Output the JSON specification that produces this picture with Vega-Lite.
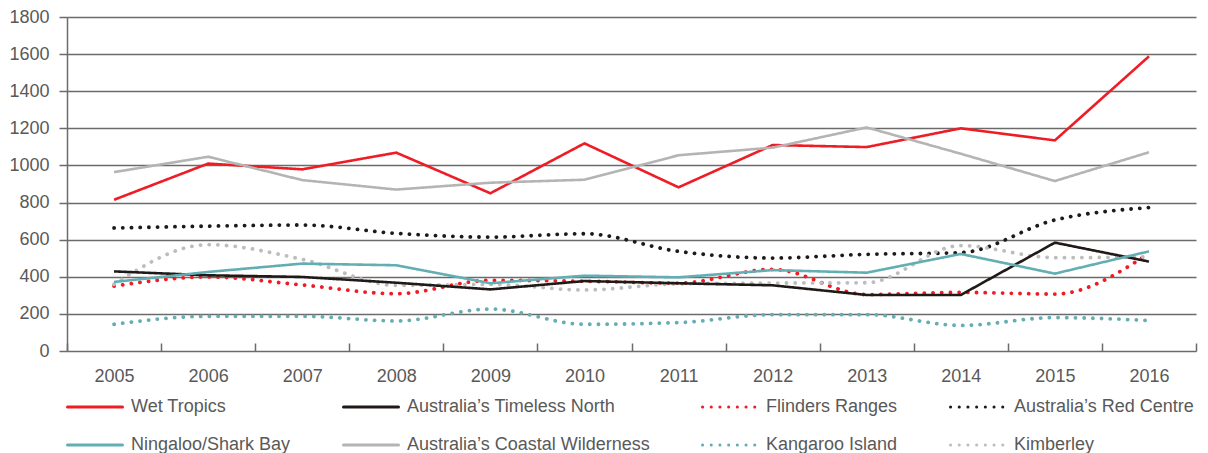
{
  "$schema": "https://vega.github.io/schema/vega-lite/v6.json",
  "width": 1129,
  "height": 334,
  "autosize": {"type": "none"},
  "padding": {"left": 67, "top": 17, "right": 12, "bottom": 102},
  "background": "white",
  "config": {
    "view": {"stroke": null},
    "font": "Liberation Sans",
    "axis": {"labelFont": "Liberation Sans", "labelFontSize": 18, "labelColor": "#595959", "domainColor": "#6b6b6b", "tickColor": "#6b6b6b", "gridColor": "#6b6b6b", "gridOpacity": 1, "domainWidth": 1.5, "tickWidth": 1.5, "gridWidth": 1.5, "title": null}
  },
  "data": {"values": [
    {"year": "2005", "region": "Wet Tropics", "value": 815},
    {"year": "2006", "region": "Wet Tropics", "value": 1010},
    {"year": "2007", "region": "Wet Tropics", "value": 979},
    {"year": "2008", "region": "Wet Tropics", "value": 1069},
    {"year": "2009", "region": "Wet Tropics", "value": 850},
    {"year": "2010", "region": "Wet Tropics", "value": 1119},
    {"year": "2011", "region": "Wet Tropics", "value": 882},
    {"year": "2012", "region": "Wet Tropics", "value": 1110},
    {"year": "2013", "region": "Wet Tropics", "value": 1099},
    {"year": "2014", "region": "Wet Tropics", "value": 1200},
    {"year": "2015", "region": "Wet Tropics", "value": 1135},
    {"year": "2016", "region": "Wet Tropics", "value": 1588},
    {"year": "2005", "region": "Australia’s Timeless North", "value": 429},
    {"year": "2006", "region": "Australia’s Timeless North", "value": 408},
    {"year": "2007", "region": "Australia’s Timeless North", "value": 399},
    {"year": "2008", "region": "Australia’s Timeless North", "value": 368},
    {"year": "2009", "region": "Australia’s Timeless North", "value": 332},
    {"year": "2010", "region": "Australia’s Timeless North", "value": 377},
    {"year": "2011", "region": "Australia’s Timeless North", "value": 365},
    {"year": "2012", "region": "Australia’s Timeless North", "value": 354},
    {"year": "2013", "region": "Australia’s Timeless North", "value": 302},
    {"year": "2014", "region": "Australia’s Timeless North", "value": 302},
    {"year": "2015", "region": "Australia’s Timeless North", "value": 584},
    {"year": "2016", "region": "Australia’s Timeless North", "value": 482},
    {"year": "2005", "region": "Flinders Ranges", "value": 350},
    {"year": "2006", "region": "Flinders Ranges", "value": 399},
    {"year": "2007", "region": "Flinders Ranges", "value": 356},
    {"year": "2008", "region": "Flinders Ranges", "value": 309},
    {"year": "2009", "region": "Flinders Ranges", "value": 381},
    {"year": "2010", "region": "Flinders Ranges", "value": 376},
    {"year": "2011", "region": "Flinders Ranges", "value": 366},
    {"year": "2012", "region": "Flinders Ranges", "value": 440},
    {"year": "2013", "region": "Flinders Ranges", "value": 304},
    {"year": "2014", "region": "Flinders Ranges", "value": 316},
    {"year": "2015", "region": "Flinders Ranges", "value": 307},
    {"year": "2016", "region": "Flinders Ranges", "value": 526},
    {"year": "2005", "region": "Australia’s Red Centre", "value": 663},
    {"year": "2006", "region": "Australia’s Red Centre", "value": 673},
    {"year": "2007", "region": "Australia’s Red Centre", "value": 679},
    {"year": "2008", "region": "Australia’s Red Centre", "value": 634},
    {"year": "2009", "region": "Australia’s Red Centre", "value": 614},
    {"year": "2010", "region": "Australia’s Red Centre", "value": 632},
    {"year": "2011", "region": "Australia’s Red Centre", "value": 537},
    {"year": "2012", "region": "Australia’s Red Centre", "value": 501},
    {"year": "2013", "region": "Australia’s Red Centre", "value": 521},
    {"year": "2014", "region": "Australia’s Red Centre", "value": 530},
    {"year": "2015", "region": "Australia’s Red Centre", "value": 706},
    {"year": "2016", "region": "Australia’s Red Centre", "value": 773},
    {"year": "2005", "region": "Ningaloo/Shark Bay", "value": 372},
    {"year": "2006", "region": "Ningaloo/Shark Bay", "value": 426},
    {"year": "2007", "region": "Ningaloo/Shark Bay", "value": 471},
    {"year": "2008", "region": "Ningaloo/Shark Bay", "value": 462},
    {"year": "2009", "region": "Ningaloo/Shark Bay", "value": 365},
    {"year": "2010", "region": "Ningaloo/Shark Bay", "value": 406},
    {"year": "2011", "region": "Ningaloo/Shark Bay", "value": 397},
    {"year": "2012", "region": "Ningaloo/Shark Bay", "value": 436},
    {"year": "2013", "region": "Ningaloo/Shark Bay", "value": 422},
    {"year": "2014", "region": "Ningaloo/Shark Bay", "value": 523},
    {"year": "2015", "region": "Ningaloo/Shark Bay", "value": 417},
    {"year": "2016", "region": "Ningaloo/Shark Bay", "value": 537},
    {"year": "2005", "region": "Australia’s Coastal Wilderness", "value": 964},
    {"year": "2006", "region": "Australia’s Coastal Wilderness", "value": 1047},
    {"year": "2007", "region": "Australia’s Coastal Wilderness", "value": 921},
    {"year": "2008", "region": "Australia’s Coastal Wilderness", "value": 870},
    {"year": "2009", "region": "Australia’s Coastal Wilderness", "value": 907},
    {"year": "2010", "region": "Australia’s Coastal Wilderness", "value": 923},
    {"year": "2011", "region": "Australia’s Coastal Wilderness", "value": 1055},
    {"year": "2012", "region": "Australia’s Coastal Wilderness", "value": 1096},
    {"year": "2013", "region": "Australia’s Coastal Wilderness", "value": 1205},
    {"year": "2014", "region": "Australia’s Coastal Wilderness", "value": 1063},
    {"year": "2015", "region": "Australia’s Coastal Wilderness", "value": 916},
    {"year": "2016", "region": "Australia’s Coastal Wilderness", "value": 1071},
    {"year": "2005", "region": "Kangaroo Island", "value": 144},
    {"year": "2006", "region": "Kangaroo Island", "value": 187},
    {"year": "2007", "region": "Kangaroo Island", "value": 187},
    {"year": "2008", "region": "Kangaroo Island", "value": 162},
    {"year": "2009", "region": "Kangaroo Island", "value": 226},
    {"year": "2010", "region": "Kangaroo Island", "value": 144},
    {"year": "2011", "region": "Kangaroo Island", "value": 153},
    {"year": "2012", "region": "Kangaroo Island", "value": 196},
    {"year": "2013", "region": "Kangaroo Island", "value": 196},
    {"year": "2014", "region": "Kangaroo Island", "value": 138},
    {"year": "2015", "region": "Kangaroo Island", "value": 180},
    {"year": "2016", "region": "Kangaroo Island", "value": 164},
    {"year": "2005", "region": "Kimberley", "value": 360},
    {"year": "2006", "region": "Kimberley", "value": 573},
    {"year": "2007", "region": "Kimberley", "value": 494},
    {"year": "2008", "region": "Kimberley", "value": 354},
    {"year": "2009", "region": "Kimberley", "value": 359},
    {"year": "2010", "region": "Kimberley", "value": 329},
    {"year": "2011", "region": "Kimberley", "value": 362},
    {"year": "2012", "region": "Kimberley", "value": 366},
    {"year": "2013", "region": "Kimberley", "value": 368},
    {"year": "2014", "region": "Kimberley", "value": 568},
    {"year": "2015", "region": "Kimberley", "value": 503},
    {"year": "2016", "region": "Kimberley", "value": 507}
  ]},
  "encoding": {
    "x": {"field": "year", "type": "ordinal", "bandPosition": 0.5,
      "scale": {"type": "band", "paddingInner": 0, "paddingOuter": 0},
      "axis": {"tickBand": "extent", "tickSize": -8, "labelPadding": 24, "labelAngle": 0, "domain": false, "grid": false}},
    "y": {"field": "value", "type": "quantitative",
      "scale": {"domain": [0, 1800], "nice": false},
      "axis": {"values": [0, 200, 400, 600, 800, 1000, 1200, 1400, 1600, 1800], "format": "d", "tickSize": 8, "labelPadding": 10, "grid": true, "domain": true}},
    "color": {"field": "region", "type": "nominal",
      "scale": {
        "domain": ["Wet Tropics", "Australia’s Timeless North", "Flinders Ranges", "Australia’s Red Centre", "Ningaloo/Shark Bay", "Australia’s Coastal Wilderness", "Kangaroo Island", "Kimberley"],
        "range": ["#ee1c25", "#1f1a17", "#ee1c25", "#1f1a17", "#62aeb3", "#b4b4b4", "#62aeb3", "#bdbdbd"]},
      "legend": {"orient": "none", "legendX": -1, "legendY": 361, "direction": "horizontal", "columns": 4, "columnPadding": 46, "rowPadding": -13, "title": null,
        "symbolType": "stroke", "symbolSize": 3025, "symbolStrokeWidth": 3, "labelOffset": 7,
        "labelFont": "Liberation Sans", "labelFontSize": 18, "labelColor": "#595959", "labelLimit": 400,
        "encode": {"symbols": {"update": {"strokeCap": {"value": "round"}}}}}},
    "strokeDash": {"field": "region", "type": "nominal",
      "scale": {
        "domain": ["Wet Tropics", "Australia’s Timeless North", "Flinders Ranges", "Australia’s Red Centre", "Ningaloo/Shark Bay", "Australia’s Coastal Wilderness", "Kangaroo Island", "Kimberley"],
        "range": [[1, 0], [1, 0], [0.1, 8.6], [0.1, 8.6], [1, 0], [1, 0], [0.1, 8.6], [0.1, 8.6]]},
      "legend": null}
  },
  "layer": [
    {
      "transform": [{"filter": {"field": "region", "oneOf": ["Flinders Ranges", "Australia’s Red Centre", "Kangaroo Island", "Kimberley"]}}],
      "mark": {"type": "line", "interpolate": "monotone", "strokeWidth": 3.8, "strokeCap": "round"}
    },
    {
      "transform": [{"filter": {"field": "region", "oneOf": ["Wet Tropics", "Australia’s Timeless North", "Ningaloo/Shark Bay", "Australia’s Coastal Wilderness"]}}],
      "mark": {"type": "line", "strokeWidth": 2.6}
    }
  ]
}
